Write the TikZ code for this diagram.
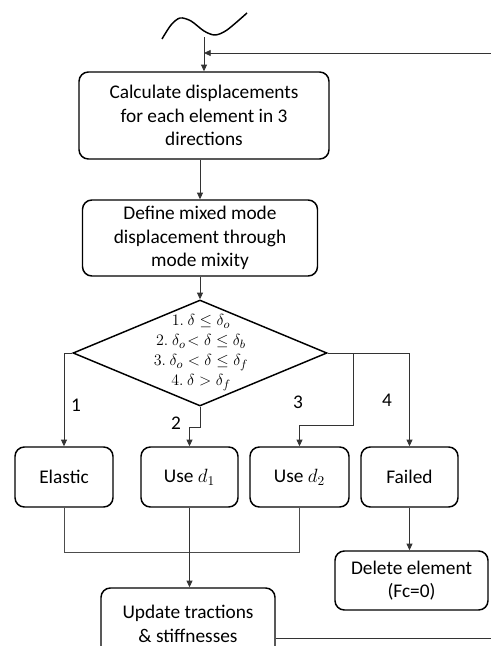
\documentclass[tikz,border=0pt]{standalone}
\usepackage{fontspec}
\setmainfont{Carlito}
\usetikzlibrary{arrows.meta,positioning,shapes.geometric}

\begin{document}
\begin{tikzpicture}[x=0.75pt,y=-0.75pt,
    box/.style={draw,line width=1.1pt,rounded corners=7pt,align=center,font=\fontsize{14.5}{17.5}\selectfont,inner sep=1pt},
    link/.style={draw=black!80,line width=0.6pt,-{Triangle[length=5pt,width=4.5pt]}},
    line/.style={draw=black!70,line width=0.6pt},
    num/.style={font=\fontsize{14.5}{16}\selectfont}]
  \useasboundingbox (0,0) rectangle (490,646);
  % input signal
  \draw[line width=1.1pt] plot[smooth] coordinates {(162,39) (171,25) (180,18) (191,21) (204,31) (215,35) (227,30) (247,13)};
  \coordinate (start) at (204,37);
  \coordinate (back) at (204,53);
  % boxes
  \node[box,minimum width=250*0.75pt,minimum height=87*0.75pt] (calc) at (204,115.5) {Calculate displacements\\for each element  in 3\\directions};
  \node[box,minimum width=235*0.75pt,minimum height=76*0.75pt] (mixed) at (200,238) {Define mixed  mode\\displacement  through\\mode mixity};
  \node[draw,diamond,line width=1.1pt,minimum width=254*0.75pt,minimum height=106*0.75pt,inner sep=0pt] (test) at (200,353) {};
  \node[align=center,font=\fontsize{12.5}{15}\selectfont] at (201,353) {$1.\ \delta \le \delta_o$\\ $2.\ \delta_o\!< \delta \le \delta_b$\\ $3.\ \delta_o < \delta \le \delta_f$\\ $4.\ \delta > \delta_f$};
  \node[box,minimum width=98*0.75pt,minimum height=60*0.75pt] (elastic) at (64,477) {Elastic};
  \node[box,minimum width=97*0.75pt,minimum height=60*0.75pt] (used1) at (189.5,477) {Use $d_1$};
  \node[box,minimum width=99*0.75pt,minimum height=60*0.75pt] (used2) at (299.5,477) {Use $d_2$};
  \node[box,minimum width=97*0.75pt,minimum height=60*0.75pt] (failed) at (409.5,477) {Failed};
  \node[box,minimum width=153*0.75pt,minimum height=59*0.75pt] (delete) at (411.5,580.5) {Delete  element\\(Fc=0)};
  \node[box,minimum width=174*0.75pt,minimum height=72*0.75pt] (update) at (188,624) {Update tractions\\\& stiffnesses};
  % connectors
  \draw[link] (start) -- (start |- calc.north);
  \draw[link] ([yshift=-10.5pt]update.east) -- ++(240,0) -- ++(0,-585) -- (back);
  \draw[link] (calc.south -| mixed) -- (mixed);
  \draw[link] (mixed) -- (test);
  \draw[link] (test.west) -| (elastic);
  \draw[link] (test.south) -- ++(0,21) -| (used1);
  \draw[link] (test.east) -| (failed);
  \path (test.east) ++(26,0) coordinate (split);
  \draw[link] (split) -- ++(0,72) -| (used2);
  \draw[line] (elastic) -- ++(0,75) -| (used2);
  \draw[link] (used1) -- (used1 |- update.north);
  \draw[link] (failed) -- (failed |- delete.north);
  % case labels
  \node[num] at (76,405) {1};
  \node[num] at (176,423) {2};
  \node[num] at (298,402) {3};
  \node[num] at (387,400) {4};
\end{tikzpicture}
\end{document}
